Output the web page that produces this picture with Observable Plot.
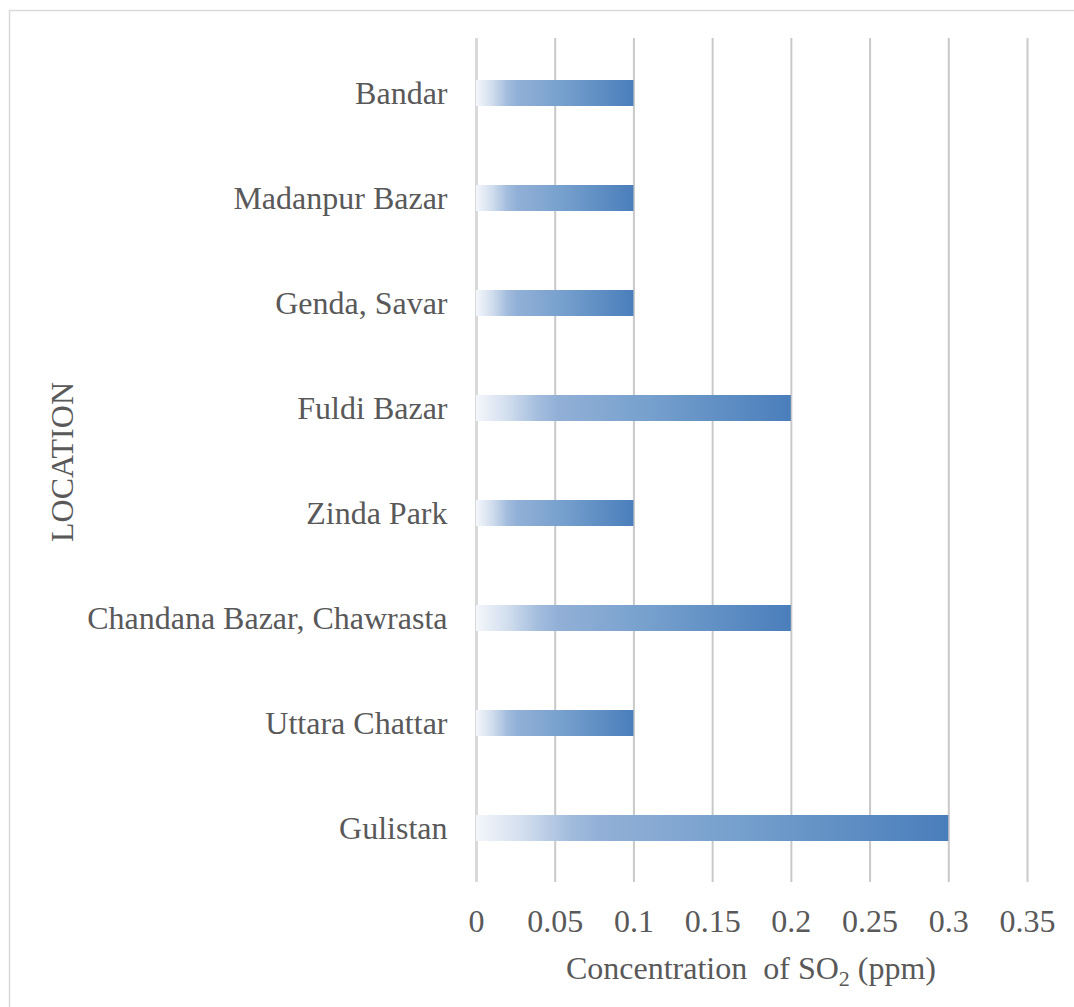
<!DOCTYPE html>
<html>
<head>
<meta charset="utf-8">
<script src="https://cdn.jsdelivr.net/npm/d3@7"></script>
<script src="https://cdn.jsdelivr.net/npm/@observablehq/plot@0.6"></script>
<style>
  html, body { margin: 0; padding: 0; background: #fff; }
  svg { display: block; }
</style>
</head>
<body>
<div id="chart"></div>
<script>
const locations = ["Bandar", "Madanpur Bazar", "Genda, Savar", "Fuldi Bazar", "Zinda Park", "Chandana Bazar, Chawrasta", "Uttara Chattar", "Gulistan"];
const so2Values = [0.1, 0.1, 0.1, 0.2, 0.1, 0.2, 0.1, 0.3];
const xTicks = [0, 0.05, 0.1, 0.15, 0.2, 0.25, 0.3, 0.35];
const xTickLabels = ["0", "0.05", "0.1", "0.15", "0.2", "0.25", "0.3", "0.35"];

const data = locations.map((loc, i) => ({location: loc, value: so2Values[i]}));

const W = 1074, H = 1007;
const font = "'Liberation Serif', 'Times New Roman', serif";
const textColor = "#595959";
const fs = 32;

const svg = Plot.plot({
  width: W,
  height: H,
  marginLeft: 476,
  marginRight: 47,
  marginTop: 38,
  marginBottom: 125,
  style: {fontFamily: font, fontSize: fs + "px", color: textColor, background: "#fff", overflow: "visible"},
  x: {domain: [0, 0.35]},
  y: {domain: locations, paddingInner: 0.753, paddingOuter: 0.3765},
  marks: [
    Plot.gridX(xTicks.slice(1), {stroke: "#c9c9c9", strokeWidth: 2, strokeOpacity: 1}),
    Plot.ruleX([0], {stroke: "#d9d9d9", strokeWidth: 3}),
    Plot.barX(data, {x: "value", y: "location", fill: "url(#barGrad)"}),
    Plot.axisX(xTicks, {tickSize: 0, tickPadding: 27, fontSize: fs, tickFormat: (d, i) => xTickLabels[i], label: null}),
    Plot.axisY({tickSize: 0, tickPadding: 29, fontSize: fs, label: null})
  ]
});

const s = d3.select(svg);
const defs = s.insert("defs", ":first-child");
const grad = defs.append("linearGradient").attr("id", "barGrad")
  .attr("x1", "0").attr("x2", "1").attr("y1", "0").attr("y2", "0");
[[0, "#f4f7fb"], [0.1, "#d2deee"], [0.2, "#a2bcdd"], [0.26, "#92b0d7"], [0.55, "#76a0cd"], [1, "#4a7ebb"]]
  .forEach(([o, c]) => grad.append("stop").attr("offset", o).attr("stop-color", c));

// outer chart border
s.append("rect")
  .attr("x", 9.5).attr("y", 10.5).attr("width", W + 10).attr("height", H + 10)
  .attr("fill", "none").attr("stroke", "#d9d9d9").attr("stroke-width", 1.5);

// y axis title
s.append("text")
  .attr("transform", `translate(73, 462) rotate(-90)`)
  .attr("text-anchor", "middle")
  .attr("fill", textColor)
  .style("font-family", font).style("font-size", fs + "px")
  .text("LOCATION");

// x axis title with subscript
const xt = s.append("text")
  .attr("x", 751).attr("y", 979)
  .attr("text-anchor", "middle")
  .attr("fill", textColor)
  .style("font-family", font).style("font-size", fs + "px");
xt.append("tspan").text("Concentration  of SO");
xt.append("tspan").attr("dy", 7).style("font-size", "22px").text("2");
xt.append("tspan").attr("dy", -7).text(" (ppm)");

document.getElementById("chart").appendChild(svg);
</script>
</body>
</html>
